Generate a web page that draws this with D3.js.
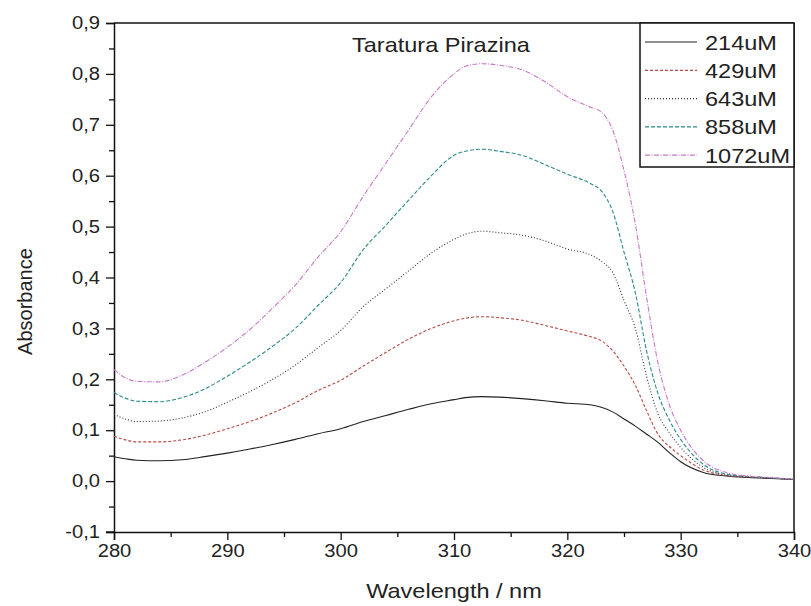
<!DOCTYPE html>
<html>
<head>
<meta charset="utf-8">
<script src="https://cdn.jsdelivr.net/npm/d3@7"></script>
<style>
  body { margin: 0; background: #fff; }
  text { font-family: 'Liberation Sans', Arial, sans-serif; fill: #222; }
</style>
</head>
<body>
<svg id="chart" width="811" height="606"></svg>
<script>
// wavelengths (nm) and absorbance for each concentration
const wavelengths = [280, 281, 282, 284, 286, 288, 290, 292, 294, 296, 298, 300, 302, 304, 306, 308, 310, 311, 312.5, 314, 316, 318, 320, 322, 323, 324, 325, 326, 327, 328, 329, 330, 332, 334, 336, 338, 340];
const a214  = [0.048, 0.044, 0.041, 0.040, 0.042, 0.048, 0.055, 0.063, 0.072, 0.082, 0.093, 0.103, 0.117, 0.129, 0.141, 0.152, 0.160, 0.164, 0.166, 0.165, 0.162, 0.158, 0.153, 0.150, 0.145, 0.136, 0.122, 0.108, 0.092, 0.076, 0.056, 0.038, 0.017, 0.010, 0.007, 0.005, 0.003];
const a429  = [0.088, 0.081, 0.077, 0.077, 0.081, 0.090, 0.103, 0.117, 0.134, 0.154, 0.178, 0.198, 0.226, 0.253, 0.279, 0.300, 0.315, 0.320, 0.323, 0.321, 0.316, 0.306, 0.295, 0.284, 0.276, 0.256, 0.226, 0.188, 0.138, 0.092, 0.068, 0.050, 0.022, 0.011, 0.008, 0.006, 0.003];
const a643  = [0.131, 0.122, 0.117, 0.118, 0.124, 0.136, 0.155, 0.176, 0.200, 0.228, 0.262, 0.296, 0.343, 0.378, 0.413, 0.448, 0.475, 0.485, 0.491, 0.488, 0.483, 0.472, 0.456, 0.445, 0.432, 0.410, 0.355, 0.300, 0.205, 0.132, 0.095, 0.066, 0.027, 0.012, 0.008, 0.006, 0.003];
const a858  = [0.174, 0.163, 0.157, 0.156, 0.164, 0.181, 0.206, 0.234, 0.265, 0.300, 0.345, 0.390, 0.455, 0.503, 0.552, 0.600, 0.640, 0.648, 0.652, 0.648, 0.640, 0.622, 0.603, 0.585, 0.570, 0.530, 0.450, 0.370, 0.255, 0.172, 0.120, 0.082, 0.033, 0.014, 0.009, 0.006, 0.004];
const a1072 = [0.219, 0.203, 0.196, 0.195, 0.208, 0.233, 0.263, 0.298, 0.340, 0.385, 0.440, 0.490, 0.560, 0.625, 0.690, 0.755, 0.800, 0.815, 0.820, 0.817, 0.808, 0.785, 0.755, 0.735, 0.725, 0.690, 0.610, 0.505, 0.360, 0.232, 0.150, 0.100, 0.040, 0.017, 0.010, 0.007, 0.004];

const seriesNames = ['214uM', '429uM', '643uM', '858uM', '1072uM'];
const seriesValues = [a214, a429, a643, a858, a1072];
const seriesColors = ['#222222', '#b84a44', '#333333', '#2b8a8a', '#c878c8'];
const seriesDash = ['none', '3,2', '1,2', '4,2', '5,1.5,1,1.5'];

const xTicks = [280, 290, 300, 310, 320, 330, 340];
const yTicks = [-0.1, 0.0, 0.1, 0.2, 0.3, 0.4, 0.5, 0.6, 0.7, 0.8, 0.9];

const W = 811, H = 606;
const m = { top: 23, right: 17, bottom: 74, left: 114 };
const iw = W - m.left - m.right, ih = H - m.top - m.bottom;
const STRETCH = 1.12;   // the original text is a bit wider than Arial

const svg = d3.select('#chart');
const g = svg.append('g').attr('transform', `translate(${m.left},${m.top})`);

const x = d3.scaleLinear().domain([280, 340]).range([0, iw]);
const y = d3.scaleLinear().domain([-0.1, 0.9]).range([ih, 0]);

const fmt = d => d3.format('.1f')(d).replace('.', ',').replace('−', '-');

// minor ticks
const xMinor = d3.range(285, 340, 10);
const yMinor = d3.range(-0.05, 0.9, 0.1);

const xAxis = g.append('g').attr('transform', `translate(0,${ih})`)
  .call(d3.axisBottom(x).tickValues(xTicks).tickSize(8).tickPadding(4).tickFormat(d3.format('d')));
g.append('g').attr('transform', `translate(0,${ih})`)
  .call(d3.axisBottom(x).tickValues(xMinor).tickSize(5).tickFormat(''))
  .select('.domain').remove();

const yAxis = g.append('g')
  .call(d3.axisLeft(y).tickValues(yTicks).tickSize(8).tickPadding(6).tickFormat(fmt));
g.append('g')
  .call(d3.axisLeft(y).tickValues(yMinor).tickSize(5).tickFormat(''))
  .select('.domain').remove();

g.selectAll('.tick line').attr('stroke', '#111').attr('stroke-width', 1.3);
g.selectAll('.domain').attr('stroke', '#111').attr('stroke-width', 1.5);
[xAxis, yAxis].forEach(ax => ax.selectAll('text')
  .attr('font-size', 18).attr('fill', '#222').attr('font-family', 'Liberation Sans, Arial, sans-serif'));
// x-axis line runs a little past the y axis, like the original
g.append('line').attr('x1', -8).attr('x2', 0).attr('y1', ih).attr('y2', ih).attr('stroke', '#111').attr('stroke-width', 1.3);

// frame top/right
g.append('line').attr('x1', 0).attr('x2', iw).attr('y1', 0).attr('y2', 0).attr('stroke', '#111').attr('stroke-width', 1.5);
g.append('line').attr('x1', iw).attr('x2', iw).attr('y1', 0).attr('y2', ih).attr('stroke', '#111').attr('stroke-width', 1.5);

// curves
const line = d3.line().x((d, i) => x(wavelengths[i])).y(d => y(d)).curve(d3.curveMonotoneX);
seriesValues.forEach((vals, k) => {
  g.append('path')
    .datum(vals)
    .attr('d', line)
    .attr('fill', 'none')
    .attr('stroke', seriesColors[k])
    .attr('stroke-width', 1.1)
    .attr('stroke-dasharray', seriesDash[k]);
});

// title
g.append('text').attr('x', 238).attr('y', 29)
  .attr('font-size', 21).text('Taratura Pirazina');

// legend
const legW = 154, legH = 144, rowH = 28.3;
const lg = g.append('g').attr('transform', `translate(${iw - legW},0)`);
lg.append('rect').attr('x', 0).attr('y', 0).attr('width', legW).attr('height', legH)
  .attr('fill', '#fff').attr('stroke', '#111').attr('stroke-width', 1.5);
seriesNames.forEach((name, k) => {
  const yy = 19 + k * rowH;
  lg.append('line').attr('x1', 5).attr('x2', 57).attr('y1', yy).attr('y2', yy)
    .attr('stroke', seriesColors[k]).attr('stroke-width', 1.2).attr('stroke-dasharray', seriesDash[k]);
  lg.append('text').attr('x', 65).attr('y', yy + 7.5).attr('font-size', 21).text(name);
});

// axis titles
svg.append('text').attr('x', m.left + iw / 2).attr('y', 598).attr('text-anchor', 'middle')
  .attr('font-size', 21).text('Wavelength / nm');
svg.append('text').attr('class', 'rot').attr('transform', `translate(32,${m.top + ih / 2 + 24}) rotate(-90)`)
  .attr('text-anchor', 'middle').attr('font-size', 20).text('Absorbance');

// widen horizontal text a little to match the original's proportions
svg.selectAll('text').filter(function() { return !this.classList.contains('rot'); })
  .each(function() {
    const len = this.getComputedTextLength();
    d3.select(this).attr('textLength', len * STRETCH).attr('lengthAdjust', 'spacingAndGlyphs');
  });
</script>
</body>
</html>
